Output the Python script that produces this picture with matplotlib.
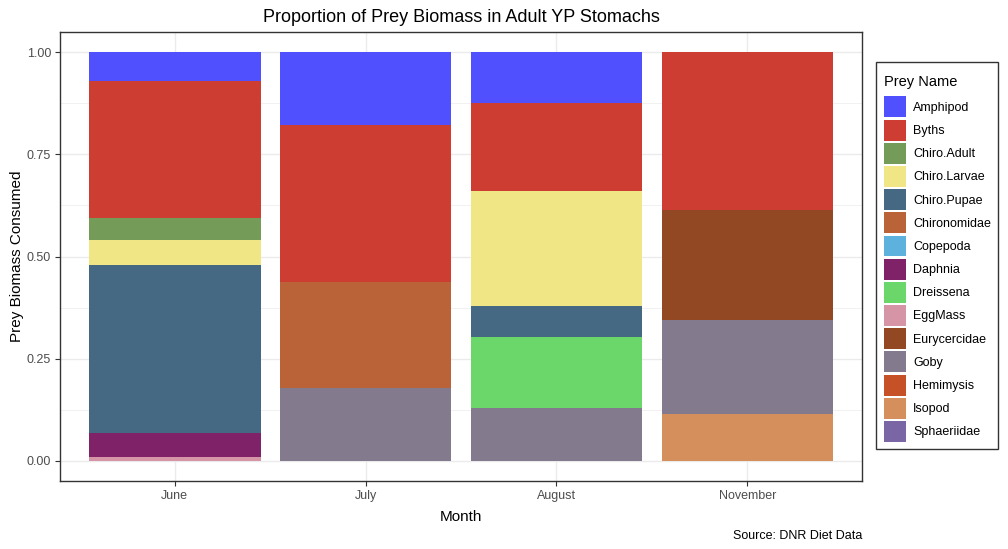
import matplotlib
matplotlib.use("Agg")
import matplotlib.pyplot as plt
from matplotlib.patches import Patch
from matplotlib.offsetbox import DrawingArea, VPacker
import numpy as np

plt.rcParams['font.family'] = ['Liberation Sans', 'DejaVu Sans']

months = ["June", "July", "August", "November"]
prey_names = ["Amphipod", "Byths", "Chiro.Adult", "Chiro.Larvae", "Chiro.Pupae",
              "Chironomidae", "Copepoda", "Daphnia", "Dreissena", "EggMass",
              "Eurycercidae", "Goby", "Hemimysis", "Isopod", "Sphaeriidae"]
prey_colors = ["#5050FF", "#CE3D32", "#749B58", "#F0E685", "#466983",
               "#BA6338", "#5DB1DD", "#802268", "#6BD76B", "#D595A7",
               "#924822", "#837B8D", "#C75127", "#D58F5C", "#7A65A5"]

# proportions per month, in the order of prey_names
june     = [0.069, 0.336, 0.055, 0.061, 0.412, 0.0, 0.0, 0.059, 0.0, 0.008, 0.0, 0.0, 0.0, 0.0, 0.0]
july     = [0.177, 0.385, 0.0, 0.0, 0.0, 0.259, 0.0, 0.0, 0.0, 0.0, 0.0, 0.179, 0.0, 0.0, 0.0]
august   = [0.124, 0.215, 0.0, 0.283, 0.076, 0.0, 0.0, 0.0, 0.172, 0.0, 0.0, 0.130, 0.0, 0.0, 0.0]
november = [0.0, 0.386, 0.0, 0.0, 0.0, 0.0, 0.0, 0.0, 0.0, 0.0, 0.270, 0.229, 0.0, 0.115, 0.0]

W, H = 1008, 549
fig = plt.figure(figsize=(W / 100, H / 100), dpi=100)
ax = fig.add_axes([60 / W, (H - 481) / H, 802 / W, 449 / H])

data = np.array([june, july, august, november])  # months x prey
x = np.arange(1, len(months) + 1)
bottom = np.zeros(len(months))
for j in reversed(range(len(prey_names))):
    vals = data[:, j]
    ax.bar(x, vals, width=0.9, bottom=bottom, color=prey_colors[j], linewidth=0, zorder=2)
    bottom += vals

ax.set_xlim(0.4, 4.6)
ax.set_ylim(-0.05, 1.05)
ax.set_xticks(x)
ax.set_xticklabels(months)
ax.set_yticks([0, 0.25, 0.5, 0.75, 1.0])
ax.set_yticklabels(["0.00", "0.25", "0.50", "0.75", "1.00"])
ax.set_yticks([0.125, 0.375, 0.625, 0.875], minor=True)
ax.grid(True, which='major', color='#ebebeb', linewidth=1.0, zorder=0)
ax.grid(True, which='minor', axis='y', color='#ebebeb', linewidth=0.5, zorder=0)
ax.set_axisbelow(True)
ax.tick_params(axis='both', which='major', length=3.5, width=0.8, color='#333333',
               labelcolor='#4d4d4d', labelsize=9, pad=3)
ax.tick_params(axis='both', which='minor', length=0)
for s in ax.spines.values():
    s.set_color('#333333')
    s.set_linewidth(1.0)

ax.set_xlabel("Month", fontsize=11, color='black', labelpad=6)
ax.set_ylabel("Prey Biomass Consumed", fontsize=11, color='black', labelpad=2)
fig.text(461 / W, 1 - 18 / H, "Proportion of Prey Biomass in Adult YP Stomachs",
         ha='center', va='center', fontsize=13)
fig.text(862 / W, 1 - 536 / H, "Source: DNR Diet Data", ha='right', va='center', fontsize=9)

handles = [Patch(facecolor=c, edgecolor='none') for c in prey_colors]
leg = fig.legend(handles, prey_names, title="Prey Name", loc='upper left',
                 bbox_to_anchor=(876 / W, 1 - 62 / H), fontsize=9, title_fontsize=10.5,
                 frameon=True, fancybox=False, handlelength=1.76, handleheight=2.2,
                 labelspacing=0.18, handletextpad=0.6, borderpad=0.6, borderaxespad=0)
leg.get_frame().set_edgecolor('black')
leg.get_frame().set_linewidth(1.0)
# extra spacing above the title and between title and keys
title_box = leg._legend_box._children[0]
spacer = DrawingArea(1, 4.3)
leg._legend_box._children[0] = VPacker(pad=0, sep=0, align='left', children=[spacer, title_box])
leg._legend_box.sep = 5.0
leg._legend_box.align = "left"

fig.savefig("out.png", dpi=100)
